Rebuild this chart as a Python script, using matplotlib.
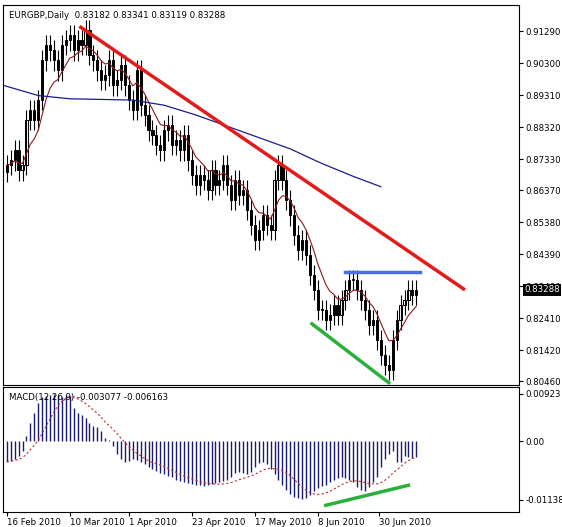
import numpy as np
import pandas as pd
import matplotlib.pyplot as plt

# daily closes
closes = [0.8715, 0.8730, 0.8761, 0.8699, 0.8715, 0.8854, 0.8885, 0.8854, 0.8916,
          0.9039, 0.9086, 0.9070, 0.9039, 0.9008, 0.9086, 0.9101, 0.9117, 0.9070,
          0.9101, 0.9086, 0.9132, 0.9055, 0.9039, 0.9008, 0.8978, 0.8993, 0.9039,
          0.8962, 0.8978, 0.9024, 0.8962, 0.8916, 0.8885, 0.9008, 0.8900, 0.8869,
          0.8823, 0.8808, 0.8777, 0.8761, 0.8823, 0.8839, 0.8777, 0.8792, 0.8761,
          0.8808, 0.8730, 0.8684, 0.8653, 0.8684, 0.8669, 0.8638, 0.8699, 0.8653,
          0.8669, 0.8715, 0.8653, 0.8607, 0.8669, 0.8622, 0.8638, 0.8576, 0.8530,
          0.8483, 0.8514, 0.8560, 0.8530, 0.8514, 0.8669, 0.8715, 0.8669, 0.8607,
          0.8560, 0.8499, 0.8452, 0.8483, 0.8437, 0.8375, 0.8329, 0.8267, 0.8267,
          0.8236, 0.8252, 0.8282, 0.8252, 0.8298, 0.8329, 0.8360, 0.8360, 0.8329,
          0.8298, 0.8267, 0.8221, 0.8236, 0.8174, 0.8128, 0.8097, 0.8082, 0.8174,
          0.8236, 0.8282, 0.8298, 0.8329, 0.8313, 0.8329]
# long moving average (blue), sampled every 8 bars
slow_idx = [-1, 8, 16, 24, 32, 40, 48, 56, 64, 72, 80, 88, 95]
slow_ma = [0.8962, 0.8930, 0.8920, 0.8918, 0.8916, 0.8900, 0.8870, 0.8835, 0.8800,
           0.8765, 0.8720, 0.8680, 0.8648]
# MACD histogram
macd = [-0.0040, -0.0038, -0.0035, -0.0030, -0.0020, 0.0010, 0.0035, 0.0055, 0.0075,
        0.0085, 0.0088, 0.0090, 0.0091, 0.0089, 0.0085, 0.0090, 0.0088, 0.0065,
        0.0055, 0.0050, 0.0045, 0.0035, 0.0030, 0.0028, 0.0020, 0.0005, 0.0003,
        -0.0010, -0.0025, -0.0035, -0.0040, -0.0038, -0.0035, -0.0037, -0.0040,
        -0.0045, -0.0050, -0.0055, -0.0058, -0.0062, -0.0065, -0.0068, -0.0070,
        -0.0075, -0.0078, -0.0080, -0.0082, -0.0084, -0.0085, -0.0086, -0.0087,
        -0.0085, -0.0083, -0.0082, -0.0080, -0.0078, -0.0076, -0.0070, -0.0062,
        -0.0060, -0.0062, -0.0065, -0.0060, -0.0050, -0.0042, -0.0040, -0.0045,
        -0.0055, -0.0065, -0.0075, -0.0085, -0.0095, -0.0103, -0.0108, -0.0111,
        -0.0112, -0.0110, -0.0105, -0.0098, -0.0092, -0.0088, -0.0085, -0.0080,
        -0.0075, -0.0072, -0.0070, -0.0072, -0.0075, -0.0080, -0.0090, -0.0095,
        -0.0098, -0.0090, -0.0080, -0.0070, -0.0050, -0.0035, -0.0025, -0.0020,
        -0.0040, -0.0040, -0.0030, -0.0032, -0.0033, -0.0031]
date_labels = ["16 Feb 2010", "10 Mar 2010", "1 Apr 2010", "23 Apr 2010",
               "17 May 2010", "8 Jun 2010", "30 Jun 2010"]
date_idx = [0, 16, 31, 47, 63, 79, 94.5]
price_ticks = [0.91290, 0.90300, 0.89310, 0.88320, 0.87330, 0.86370, 0.85380,
               0.84390, 0.83400, 0.82410, 0.81420, 0.80460]

FS = 6.2
n = len(closes)
x = np.arange(n)
c = np.array(closes)
o = np.r_[c[0] - 0.002, c[:-1]]
h = np.maximum(o, c) + 0.0032
l = np.minimum(o, c) - 0.0032
ema = pd.Series(c).ewm(span=8, adjust=False).mean()
hist = np.array(macd[:n])
signal = pd.Series(hist).rolling(9, min_periods=1).mean()

fig = plt.figure(figsize=(5.62, 5.27), dpi=100)
ax = fig.add_axes([0.005, 0.2695, 0.918, 0.721])
ax2 = fig.add_axes([0.005, 0.0285, 0.918, 0.237], sharex=ax)

for i in x:
    ax.vlines(i, l[i], h[i], color="black", lw=0.8)
    bot, top = min(o[i], c[i]), max(o[i], c[i])
    fc = "white" if c[i] >= o[i] else "black"
    ax.bar(i, max(top - bot, 0.0004), bottom=bot, width=0.55, color=fc,
           edgecolor="black", lw=0.7)
ax.plot(x, ema, color="#8b1a1a", lw=0.8)
ax.plot(slow_idx, slow_ma, color="#1c1c8c", lw=0.9)
ax.plot([18.8, 116], [0.9141, 0.8332], color="#e31b1b", lw=2.5)
ax.plot([86, 105], [0.8385, 0.8385], color="#4a6fe0", lw=2.5)
ax.plot([77.5, 97], [0.8224, 0.8042], color="#2ab03a", lw=2.5)

ax.set_xlim(-1, 130)
ax.set_ylim(0.8035, 0.9210)
ax.yaxis.tick_right()
ax.set_yticks(price_ticks)
ax.set_yticklabels(["%.5f" % p for p in price_ticks], fontsize=FS)
ax.tick_params(axis="x", labelbottom=False, length=0)
ax.tick_params(axis="y", length=3, pad=2)
ax.text(0.012, 0.985, "EURGBP,Daily  0.83182 0.83341 0.83119 0.83288",
        transform=ax.transAxes, fontsize=FS, va="top")
ax.text(1.01, 0.8329, "0.83288", transform=ax.get_yaxis_transform(), fontsize=FS,
        va="center", color="white", bbox=dict(fc="black", ec="none", pad=1))

ax2.vlines(x, 0, hist, color="#1c1c6c", lw=1.0)
ax2.plot(x, signal, color="#c03030", lw=0.8, ls=(0, (2, 2)))
ax2.plot([81, 102], [-0.0125, -0.0086], color="#2ab03a", lw=2.5)
ax2.set_ylim(-0.0138, 0.0105)
ax2.yaxis.tick_right()
ax2.set_yticks([0.00923, 0.0, -0.01138])
ax2.set_yticklabels(["0.00923", "0.00", "-0.01138"], fontsize=FS)
ax2.set_xticks(date_idx)
ax2.set_xticklabels(date_labels, fontsize=FS, ha="left")
ax2.tick_params(axis="x", length=3, pad=1)
ax2.tick_params(axis="y", length=3, pad=2)
ax2.text(0.012, 0.95, "MACD(12,26,9) -0.003077 -0.006163", transform=ax2.transAxes,
         fontsize=FS, va="top")

plt.savefig("out.png", dpi=100)
